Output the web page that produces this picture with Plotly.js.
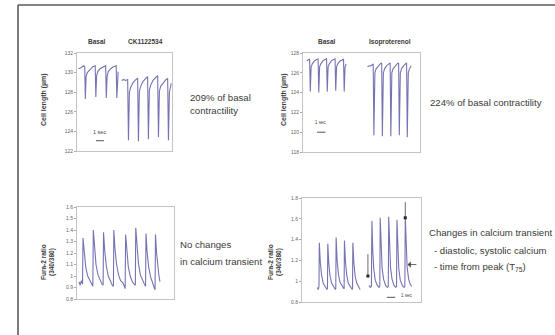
<!DOCTYPE html>
<html><head><meta charset="utf-8">
<script src="https://cdn.plot.ly/plotly-3.0.1.min.js"></script>
<style>html,body{margin:0;padding:0;background:#fff}#chart{width:555px;height:335px}</style>
</head><body><div id="chart"></div>
<script>
// ---- Panel A: cell length (µm), Basal vs CK1122534 (time in s) ----
const lenBasalA_t = [0.2,0.5,0.85,0.98,1.05,1.15,1.3,1.6,2.0,2.3,2.38,2.48,2.63,2.9,3.3,3.62,3.70,3.80,3.95,4.25,4.6,4.95,5.03,5.13,5.2];
const lenBasalA_y = [130.4,130.5,130.7,130.6,127.3,129.6,130.0,130.3,130.6,130.7,127.5,129.7,130.1,130.4,130.6,130.7,127.4,129.6,130.1,130.4,130.6,130.7,127.4,129.7,130.1];
const lenCK_t = [5.65,5.9,6.1,6.4,6.50,6.62,6.78,7.1,7.45,7.66,7.76,7.88,8.04,8.35,8.7,8.92,9.02,9.14,9.3,9.6,9.95,10.19,10.29,10.41,10.57,10.9,11.25,11.45,11.55,11.67,11.8,11.9];
const lenCK_y = [129.2,129.3,129.2,129.3,123.1,128.0,128.5,129.0,129.3,129.4,123.0,128.1,128.6,129.1,129.4,129.6,123.2,128.2,128.7,129.2,129.5,129.7,123.4,128.1,128.6,129.0,129.3,129.4,123.1,128.0,128.6,128.9];
const lenTicksA = [122,124,126,128,130,132];

// ---- Panel B: cell length (µm), Basal vs Isoproterenol ----
const lenBasalB_t = [0.45,0.6,0.78,0.86,0.96,1.1,1.35,1.6,1.78,1.86,1.96,2.1,2.35,2.6,2.78,2.86,2.96,3.1,3.35,3.6,3.78,3.86,3.96,4.1,4.35,4.6,4.78,4.86,4.96,5.1];
const lenBasalB_y = [127.2,127.3,127.4,124.1,126.6,126.9,127.2,127.35,127.4,124.0,126.6,126.9,127.2,127.35,127.45,124.1,126.6,126.9,127.2,127.35,127.4,124.2,126.6,126.9,127.2,127.3,127.4,124.1,126.6,126.9];
const lenIso_t = [7.6,7.8,8.0,8.15,8.28,8.36,8.48,8.62,8.85,9.1,9.28,9.36,9.48,9.62,9.85,10.1,10.28,10.36,10.48,10.62,10.85,11.1,11.28,11.36,11.48,11.62,11.85,12.05,12.22,12.30,12.42,12.56,12.75];
const lenIso_y = [126.6,126.7,126.7,126.8,126.9,119.7,126.0,126.4,126.7,126.9,127.0,119.6,126.0,126.4,126.7,126.9,127.0,119.6,126.0,126.4,126.7,126.9,127.0,119.7,126.0,126.4,126.7,126.9,127.0,119.5,126.0,126.4,126.7];
const lenTicksB = [118,120,122,124,126,128];

// ---- Panel C: Fura-2 ratio (340/380), Basal + CK1122534 ----
const furaC_t = [0.25,0.4,0.55,0.7,0.76,0.9,1.1,1.35,1.6,1.85,2.0,2.06,2.2,2.4,2.65,2.9,3.15,3.3,3.35,3.5,3.7,3.95,4.2,4.45,4.6,4.65,4.8,5.0,5.25,5.5,5.8,5.95,6.08,6.14,6.28,6.48,6.72,6.98,7.22,7.37,7.42,7.56,7.76,8.0,8.25,8.5,8.66,8.71,8.85,9.05,9.3,9.55,9.75,9.86,9.91,10.05,10.2,10.35,10.48];
const furaC_y = [0.95,0.92,0.96,0.93,1.33,1.20,1.08,1.00,0.96,0.93,0.91,1.40,1.24,1.10,1.01,0.96,0.93,0.92,1.38,1.22,1.09,1.00,0.95,0.92,0.91,1.40,1.23,1.10,1.01,0.96,0.94,0.91,0.89,1.36,1.20,1.08,1.00,0.95,0.93,0.92,1.42,1.25,1.11,1.01,0.96,0.93,0.91,1.37,1.21,1.08,0.99,0.93,0.90,0.88,1.36,1.20,1.08,1.00,0.95];
const furaTicksC = [0.8,0.9,1,1.1,1.2,1.3,1.4,1.5,1.6];

// ---- Panel D: Fura-2 ratio (340/380), Basal vs Isoproterenol ----
const furaBasalD_t = [1.85,1.95,2.04,2.08,2.2,2.35,2.55,2.8,3.0,3.06,3.10,3.22,3.37,3.57,3.82,4.02,4.06,4.10,4.22,4.37,4.57,4.82,5.02,5.06,5.10,5.22,5.37,5.57,5.82,6.03,6.07,6.11,6.23,6.38,6.58,6.8,6.98];
const furaBasalD_y = [0.94,0.92,0.95,1.37,1.18,1.06,0.98,0.94,0.92,0.93,1.36,1.17,1.05,0.98,0.94,0.92,0.93,1.42,1.20,1.07,0.99,0.95,0.93,0.93,1.39,1.19,1.06,0.98,0.94,0.92,0.93,1.37,1.18,1.05,0.98,0.94,0.92];
const furaIsoD_t = [8.05,8.2,8.34,8.4,8.5,8.62,8.8,9.05,9.25,9.35,9.4,9.5,9.62,9.8,10.05,10.27,10.37,10.42,10.52,10.64,10.82,11.05,11.27,11.36,11.41,11.51,11.63,11.81,12.05,12.27,12.36,12.41,12.51,12.63,12.81,13.0,13.2];
const furaIsoD_y = [0.96,0.94,0.95,1.58,1.30,1.12,1.01,0.96,0.94,0.95,1.61,1.32,1.13,1.02,0.96,0.94,0.95,1.62,1.33,1.13,1.02,0.96,0.94,0.95,1.59,1.31,1.12,1.01,0.96,0.94,0.95,1.62,1.33,1.14,1.02,0.97,0.95];
const furaTicksD = [0.8,1,1.2,1.4,1.6,1.8];
const furaTickTextD = ['0.8','1','1.2','1.4','1.6','1.8'];
// markers for diastolic / systolic levels (time s, ratio)
const markD_t = [7.92, 12.41];
const markD_y = [1.05, 1.61];

// ---------------- layout helpers ----------------
const W = 555, H = 335;
const xd = (a,b) => [a/W, b/W];
const yd = (top,bot) => [1-bot/H, 1-top/H];
const P = x => x/W, Q = y => 1-y/H;

const traceStyle = {mode:'lines', line:{color:'rgba(78,76,158,0.78)', width:1.1}, hoverinfo:'skip', showlegend:false};
const tr = (x,y,xa,ya) => Object.assign({x, y, xaxis:xa, yaxis:ya, type:'scatter'}, JSON.parse(JSON.stringify(traceStyle)));

const data = [
  tr(lenBasalA_t, lenBasalA_y, 'x', 'y'),
  tr(lenCK_t, lenCK_y, 'x', 'y'),
  tr(lenBasalB_t, lenBasalB_y, 'x2', 'y2'),
  tr(lenIso_t, lenIso_y, 'x2', 'y2'),
  tr(furaC_t, furaC_y, 'x3', 'y3'),
  tr(furaBasalD_t, furaBasalD_y, 'x4', 'y4'),
  tr(furaIsoD_t, furaIsoD_y, 'x4', 'y4'),
  {x: markD_t, y: markD_y, xaxis:'x4', yaxis:'y4', type:'scatter', mode:'markers',
   marker:{color:'#222', size:3, symbol:'square'}, hoverinfo:'skip', showlegend:false}
];

const xBase = {showgrid:false, zeroline:false, showticklabels:false, ticks:'', showline:true, mirror:true, linecolor:'#c4c4c4', linewidth:1, fixedrange:true};
const yBase = {showgrid:false, zeroline:false, showline:true, mirror:true, linecolor:'#c4c4c4', linewidth:1,
  ticks:'outside', ticklen:2, tickcolor:'#aaa', tickfont:{size:5, color:'#666', family:'Liberation Sans'}, fixedrange:true};
const ax = (base, extra) => Object.assign(JSON.parse(JSON.stringify(base)), extra);

const txt = (text, x, y, size, opts={}) => Object.assign({text, x:P(x), y:Q(y), xref:'paper', yref:'paper', showarrow:false,
  xanchor:'center', yanchor:'middle', font:{size, color:'#3a3a3a', family:'Liberation Sans'}}, opts);

const FS = 9.6;
const layout = {
  width: W, height: H, margin:{l:0,r:0,t:0,b:0}, paper_bgcolor:'#fff', plot_bgcolor:'#fff', showlegend:false,
  xaxis: ax(xBase, {domain: xd(77,172), range:[0,12]}),
  yaxis: ax(yBase, {domain: yd(53,151), range:[122,132], tickvals: lenTicksA}),
  xaxis2: ax(xBase, {domain: xd(303,420), range:[0,13.8], anchor:'y2'}),
  yaxis2: ax(yBase, {domain: yd(53,152), range:[118,128], tickvals: lenTicksB, anchor:'x2'}),
  xaxis3: ax(xBase, {domain: xd(77,174), range:[0,12.25], anchor:'y3'}),
  yaxis3: ax(yBase, {domain: yd(207,299), range:[0.8,1.6], tickvals: furaTicksC, anchor:'x3'}),
  xaxis4: ax(xBase, {domain: xd(302,421), range:[0,14.3], anchor:'y4'}),
  yaxis4: ax(yBase, {domain: yd(198,302), range:[0.8,1.8], tickvals: furaTicksD, ticktext: furaTickTextD, anchor:'x4'}),
  shapes: [
    {type:'line', xref:'paper', yref:'paper', x0:P(18), x1:1, y0:Q(5), y1:Q(5), line:{color:'#5a5a5a', width:1.6}},
    {type:'line', xref:'paper', yref:'paper', x0:P(18), x1:P(18), y0:0, y1:Q(5), line:{color:'#5a5a5a', width:1.6}},
    // 1-second scale bars in data units
    {type:'line', xref:'x', yref:'y', x0:2.4, x1:3.4, y0:123.05, y1:123.05, line:{color:'#555', width:1}},
    {type:'line', xref:'x2', yref:'y2', x0:1.65, x1:2.65, y0:120.0, y1:120.0, line:{color:'#555', width:1}},
    {type:'line', xref:'x4', yref:'y4', x0:10.2, x1:11.2, y0:0.845, y1:0.845, line:{color:'#555', width:1}},
    // marker stems
    {type:'line', xref:'x4', yref:'y4', x0:7.92, x1:7.92, y0:1.05, y1:1.26, line:{color:'#444', width:0.8}},
    {type:'line', xref:'x4', yref:'y4', x0:12.41, x1:12.41, y0:1.61, y1:1.76, line:{color:'#444', width:0.8}},
    // T75 arrow
    {type:'line', xref:'x4', yref:'y4', x0:12.8, x1:13.75, y0:1.16, y1:1.16, line:{color:'#444', width:0.8}},
    {type:'path', xref:'x4', yref:'y4', path:'M12.72,1.16 L13.05,1.185 L13.05,1.135 Z', fillcolor:'#444', line:{color:'#444', width:0.5}}
  ],
  annotations: [
    txt('<b>Basal</b>', 97, 42, 6.5),
    txt('<b>CK1122534</b>', 145, 42, 6.5),
    txt('<b>Basal</b>', 327, 42, 6.5),
    txt('<b>Isoproterenol</b>', 390, 42, 6.5),
    txt('<b>Cell length (µm)</b>', 44, 100, 7, {textangle:-90}),
    txt('<b>Cell length (µm)</b>', 284, 100, 7, {textangle:-90}),
    txt('<b>Fura-2 ratio<br>(340/380)</b>', 48, 262, 6.5, {textangle:-90}),
    txt('<b>Fura-2 ratio<br>(340/380)</b>', 275, 262, 6.5, {textangle:-90}),
    {text:'1 sec', x:2.9, y:123.9, xref:'x', yref:'y', showarrow:false, font:{size:5.5, color:'#444', family:'Liberation Sans'}},
    {text:'1 sec', x:2.15, y:121.0, xref:'x2', yref:'y2', showarrow:false, font:{size:4.5, color:'#444', family:'Liberation Sans'}},
    {text:'1 sec', x:11.7, y:0.86, xref:'x4', yref:'y4', xanchor:'left', showarrow:false, font:{size:4.5, color:'#444', family:'Liberation Sans'}},
    txt('209% of basal', 188, 97, FS, {xanchor:'left'}),
    txt('contractility', 188, 110, FS, {xanchor:'left'}),
    txt('224% of basal contractility', 428, 103, FS, {xanchor:'left'}),
    txt('No changes', 178, 244, FS, {xanchor:'left'}),
    txt('in calcium transient', 178, 261, FS, {xanchor:'left'}),
    txt('Changes in calcium transient', 427, 232, FS, {xanchor:'left'}),
    txt('- diastolic, systolic calcium', 432, 250, FS, {xanchor:'left'}),
    txt('- time from peak (T<sub>75</sub>)', 432, 267, FS, {xanchor:'left'})
  ]
};

Plotly.newPlot('chart', data, layout, {displayModeBar:false, staticPlot:true});
</script>
</body></html>
